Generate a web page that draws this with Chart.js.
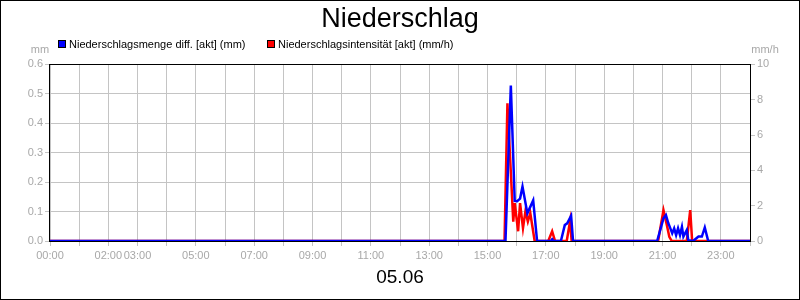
<!DOCTYPE html>
<html>
<head>
<meta charset="utf-8">
<script src="https://cdn.jsdelivr.net/npm/chart.js@4.4.0/dist/chart.umd.min.js"></script>
<style>
html, body { margin: 0; padding: 0; background: #fff; }
</style>
</head>
<body>
<canvas id="chart" width="800" height="300"></canvas>
<script>
// Niederschlag 05.06 - Menge (mm, links) und Intensität (mm/h, rechts)
const amountTimes = ['00:00', '15:37', '15:48', '15:56', '16:01', '16:07', '16:12', '16:22', '16:34', '16:42',
    '17:10', '17:13', '17:16', '17:31', '17:39', '17:44', '17:52', '17:56',
    '20:49', '21:02', '21:07', '21:12', '21:15', '21:20', '21:24', '21:28', '21:32', '21:36', '21:40', '21:43',
    '21:50', '21:53', '22:03', '22:14', '22:21', '22:27', '22:34', '24:00'];
const amountValues = [0, 0, 0.528, 0.136, 0.135, 0.144, 0.185, 0.094, 0.138, 0,
    0, 0.006, 0, 0, 0.054, 0.06, 0.086, 0,
    0, 0.077, 0.088, 0.06, 0.048, 0.026, 0.043, 0.02, 0.043, 0.02, 0.048, 0.015,
    0.037, 0.003, 0, 0.015, 0.015, 0.046, 0, 0];

const rateTimes = ['00:00', '15:35', '15:41', '15:53', '15:56', '16:03', '16:07', '16:13', '16:18', '16:23', '16:28', '16:37',
    '17:05', '17:13', '17:19', '17:43', '17:50', '17:53',
    '20:51', '21:02', '21:09', '21:14', '21:19', '21:50', '21:57', '22:01', '24:00'];
const rateValues = [0, 0, 7.8, 1.1, 2.15, 0.55, 2.15, 0.73, 1.68, 1.1, 1.58, 0,
    0, 0.55, 0, 0, 1.15, 0,
    0, 1.75, 0.9, 0.24, 0, 0, 1.75, 0, 0];

const xTickLabels = ['00:00', '02:00', '03:00', '05:00', '07:00', '09:00', '11:00', '13:00', '15:00', '17:00', '19:00', '21:00', '23:00'];
const leftTicks = [0, 0.1, 0.2, 0.3, 0.4, 0.5, 0.6];
const rightTicks = [0, 2, 4, 6, 8, 10];

const FONT = '"Liberation Sans", Arial, sans-serif';
const GREY = '#a8a8a8';
const GRID = '#c4c4c4';

function toHours(t) {
    const p = t.split(':');
    return +p[0] + p[1] / 60;
}
function hhmm(v) {
    const h = Math.floor(v + 1e-6);
    return String(h).padStart(2, '0') + ':00';
}

// Legende, Einheiten und Rahmen selbst zeichnen
const extras = {
    id: 'extras',
    beforeDatasetsDraw(chart) {
        const {ctx, chartArea: a} = chart;
        ctx.save();
        ctx.strokeStyle = '#000';
        ctx.lineWidth = 1;
        ctx.strokeRect(Math.round(a.left) - 0.5, Math.round(a.top) + 0.5, Math.round(a.right - a.left) + 1, Math.round(a.bottom - a.top));
        ctx.restore();
    },
    afterDraw(chart) {
        const ctx = chart.ctx;
        ctx.save();
        ctx.font = '11px ' + FONT;
        ctx.textBaseline = 'middle';
        ctx.textAlign = 'left';
        const starts = [58, 267];
        chart.data.datasets.forEach((ds, i) => {
            const x = starts[i];
            ctx.fillStyle = ds.borderColor;
            ctx.fillRect(x, 40, 8, 8);
            ctx.strokeStyle = '#000';
            ctx.lineWidth = 1;
            ctx.strokeRect(x + 0.5, 40.5, 7, 7);
            ctx.fillStyle = '#000';
            ctx.fillText(ds.label, x + 11, 45);
        });
        ctx.fillStyle = GREY;
        ctx.textAlign = 'center';
        ctx.textBaseline = 'alphabetic';
        ctx.fillText('mm', 40, 53);
        ctx.fillText('mm/h', 765, 53);
        // Außenrahmen
        ctx.strokeStyle = '#000';
        ctx.strokeRect(0.5, 0.5, 799, 299);
        ctx.restore();
    }
};

Chart.defaults.font.family = FONT;

new Chart(document.getElementById('chart'), {
    type: 'line',
    data: {
        datasets: [{
            label: 'Niederschlagsmenge diff. [akt] (mm)',
            data: amountTimes.map((t, i) => ({x: toHours(t), y: amountValues[i]})),
            borderColor: '#0000ff',
            borderWidth: 2.5,
            pointRadius: 0,
            tension: 0,
            yAxisID: 'y'
        }, {
            label: 'Niederschlagsintensität [akt] (mm/h)',
            data: rateTimes.map((t, i) => ({x: toHours(t), y: rateValues[i]})),
            borderColor: '#ff0000',
            borderWidth: 2.5,
            pointRadius: 0,
            tension: 0,
            yAxisID: 'y1'
        }]
    },
    options: {
        responsive: false,
        animation: false,
        layout: {padding: 0},
        plugins: {
            legend: {display: false},
            tooltip: {enabled: false},
            title: {
                display: true,
                text: 'Niederschlag',
                color: '#000',
                font: {size: 27, weight: 'normal'},
                padding: {top: 3, bottom: 29}
            }
        },
        scales: {
            x: {
                type: 'linear',
                min: 0,
                max: 24,
                afterFit: s => { s.height = 59; },
                border: {display: false},
                grid: {color: GRID, tickLength: 5},
                ticks: {
                    stepSize: 1,
                    autoSkip: false,
                    maxRotation: 0,
                    color: GREY,
                    padding: 3,
                    font: {size: 11},
                    callback: v => xTickLabels.includes(hhmm(v)) ? hhmm(v) : ''
                },
                title: {
                    display: true,
                    text: '05.06',
                    color: '#000',
                    font: {size: 19},
                    padding: {top: 0, bottom: 11}
                }
            },
            y: {
                position: 'left',
                min: 0,
                max: 0.6,
                afterFit: s => { s.width = 50; },
                afterBuildTicks: s => { s.ticks = leftTicks.map(v => ({value: v})); },
                border: {display: false},
                grid: {color: GRID, tickLength: 5},
                ticks: {color: GREY, padding: 2, font: {size: 11}, callback: v => v.toFixed(1)}
            },
            y1: {
                position: 'right',
                min: 0,
                max: 10,
                afterFit: s => { s.width = 50; },
                afterBuildTicks: s => { s.ticks = rightTicks.map(v => ({value: v})); },
                border: {display: false},
                grid: {color: GRID, tickLength: 5, drawOnChartArea: false},
                ticks: {color: GREY, padding: 2, font: {size: 11}}
            }
        }
    },
    plugins: [extras]
});
</script>
</body>
</html>
